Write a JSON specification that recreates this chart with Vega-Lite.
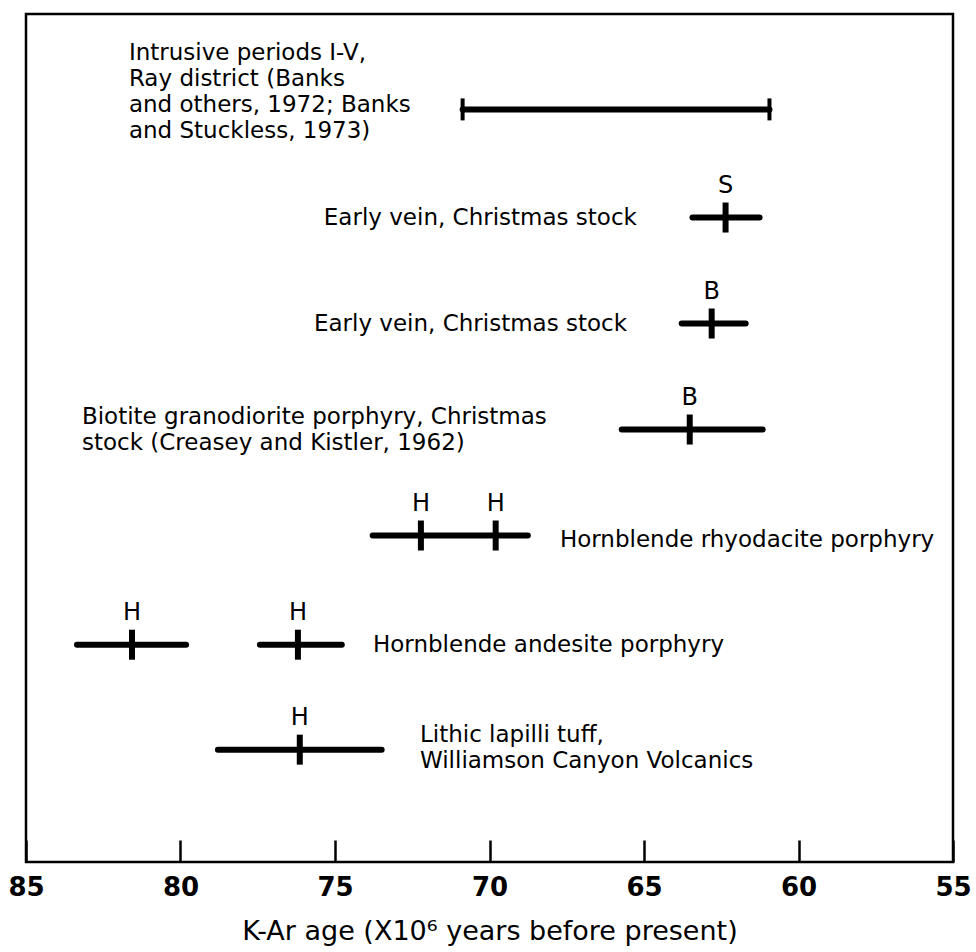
{
  "$schema": "https://vega.github.io/schema/vega-lite/v6.json",
  "width": 927,
  "height": 848,
  "autosize": "none",
  "padding": {"left": 26, "top": 14, "right": 23, "bottom": 90},
  "background": "white",
  "config": {
    "view": {"stroke": "black", "strokeWidth": 2.5},
    "font": "DejaVu Sans"
  },
  "datasets": {
    "ranges": [
      {"sample": "Intrusive periods I-V", "age": 70.87, "age_end": 60.94, "row": 7.10},
      {"sample": "Early vein S", "age": 63.43, "age_end": 61.26, "row": 6.08},
      {"sample": "Early vein B", "age": 63.78, "age_end": 61.71, "row": 5.08},
      {"sample": "Biotite granodiorite porphyry", "age": 65.72, "age_end": 61.16, "row": 4.08},
      {"sample": "Hornblende rhyodacite porphyry", "age": 73.78, "age_end": 68.76, "row": 3.08},
      {"sample": "Hornblende andesite porphyry a", "age": 83.35, "age_end": 79.82, "row": 2.05},
      {"sample": "Hornblende andesite porphyry b", "age": 77.43, "age_end": 74.78, "row": 2.05},
      {"sample": "Lithic lapilli tuff", "age": 78.79, "age_end": 73.49, "row": 1.06}
    ],
    "caps": [
      {"age": 70.87, "row": 7.10},
      {"age": 60.94, "row": 7.10}
    ],
    "dates": [
      {"age": 62.36, "row": 6.08, "mineral": "S"},
      {"age": 62.81, "row": 5.08, "mineral": "B"},
      {"age": 63.52, "row": 4.08, "mineral": "B"},
      {"age": 72.22, "row": 3.08, "mineral": "H"},
      {"age": 69.80, "row": 3.08, "mineral": "H"},
      {"age": 81.57, "row": 2.05, "mineral": "H"},
      {"age": 76.20, "row": 2.05, "mineral": "H"},
      {"age": 76.14, "row": 1.06, "mineral": "H"}
    ],
    "notes": [
      {"note": "Intrusive periods I-V,\nRay district (Banks\nand others, 1972; Banks\nand Stuckless, 1973)", "age": 81.67, "row": 7.63, "side": "left"},
      {"note": "Early vein, Christmas stock", "age": 65.23, "row": 6.08, "side": "right"},
      {"note": "Early vein, Christmas stock", "age": 65.55, "row": 5.08, "side": "right"},
      {"note": "Biotite granodiorite porphyry, Christmas\nstock (Creasey and Kistler, 1962)", "age": 83.19, "row": 4.20, "side": "left"},
      {"note": "Hornblende rhyodacite porphyry", "age": 67.72, "row": 3.04, "side": "left"},
      {"note": "Hornblende andesite porphyry", "age": 73.77, "row": 2.05, "side": "left"},
      {"note": "Lithic lapilli tuff,\nWilliamson Canyon Volcanics", "age": 72.25, "row": 1.20, "side": "left"}
    ]
  },
  "encoding": {
    "x": {
      "field": "age", "type": "quantitative",
      "scale": {"domain": [55, 85], "reverse": true, "nice": false, "zero": false},
      "axis": {
        "values": [85, 80, 75, 70, 65, 60, 55],
        "title": "K-Ar age (X10⁶ years before present)",
        "domain": false,
        "grid": false,
        "tickSize": -22,
        "tickWidth": 2.5,
        "tickColor": "black",
        "labelPadding": 34,
        "labelFont": "DejaVu Sans",
        "labelFontSize": 26,
        "labelFontWeight": "bold",
        "labelColor": "black",
        "labelFlush": false,
        "labelOverlap": false,
        "titleFont": "DejaVu Sans",
        "titleFontSize": 27,
        "titleFontWeight": "normal",
        "titleColor": "black",
        "titlePadding": 18
      }
    },
    "y": {"field": "row", "type": "quantitative", "scale": {"domain": [0, 8], "nice": false, "zero": false}, "axis": null}
  },
  "layer": [
    {
      "data": {"name": "ranges"},
      "mark": {"type": "rule", "strokeWidth": 6, "strokeCap": "round", "color": "black"},
      "encoding": {"x2": {"field": "age_end"}}
    },
    {
      "data": {"name": "dates"},
      "mark": {"type": "tick", "orient": "vertical", "size": 30, "thickness": 6, "color": "black", "opacity": 1},
      "encoding": {}
    },
    {
      "data": {"name": "caps"},
      "mark": {"type": "tick", "orient": "vertical", "size": 22, "thickness": 4, "color": "black", "opacity": 1},
      "encoding": {}
    },
    {
      "data": {"name": "dates"},
      "mark": {"type": "text", "dy": -32, "fontSize": 24, "baseline": "middle", "align": "center", "color": "black"},
      "encoding": {"text": {"field": "mineral"}}
    },
    {
      "data": {"name": "notes"},
      "transform": [{"filter": "datum.side === 'left'"}],
      "mark": {"type": "text", "align": "left", "baseline": "middle", "lineBreak": "\n", "lineHeight": 26, "fontSize": 23, "color": "black"},
      "encoding": {"text": {"field": "note"}}
    },
    {
      "data": {"name": "notes"},
      "transform": [{"filter": "datum.side === 'right'"}],
      "mark": {"type": "text", "align": "right", "baseline": "middle", "lineBreak": "\n", "lineHeight": 26, "fontSize": 23, "color": "black"},
      "encoding": {"text": {"field": "note"}}
    }
  ]
}
